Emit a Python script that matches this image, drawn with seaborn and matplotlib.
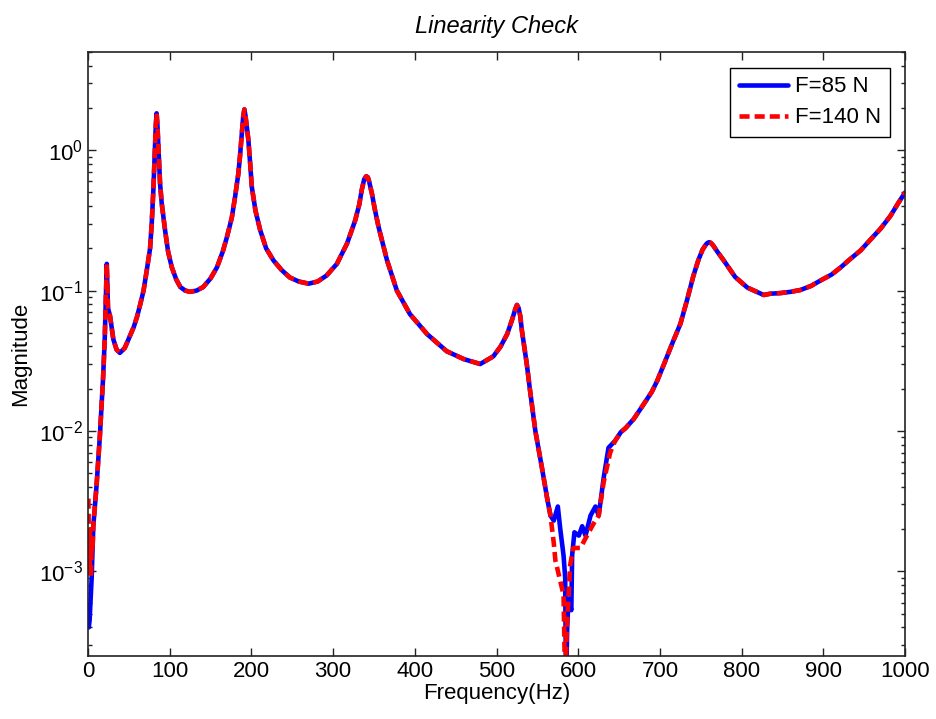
import numpy as np
import pandas as pd
import matplotlib
matplotlib.use('Agg')
import matplotlib.pyplot as plt
import seaborn as sns

# low-frequency start (the two runs differ here)
low_freq_85 = [1.0, 2.0, 3.0, 4.5, 5.5]
low_mag_85 = [4.0e-4, 4.5e-4, 6.0e-4, 9.0e-4, 1.4e-3]
low_freq_140 = [0.5, 1.5, 2.5, 3.5, 4.5, 5.5]
low_mag_140 = [3.3e-3, 1.0e-3, 2.0e-3, 9.0e-4, 1.6e-3, 1.4e-3]

# part of the response where both runs overlap
mid_freq = [6.5, 10.5, 14.5, 18.5, 20.5, 21.5, 23, 24.5, 27, 31, 35, 39, 45, 51, 56, 60, 64, 68,
            72, 76, 78, 80, 82, 83, 84, 85, 86.2, 88.2, 90.2, 94.3, 98, 102.5, 108, 113, 119,
            125, 133, 141, 150, 158, 165, 170, 176, 180, 182, 184, 186, 188, 190, 191.4, 192.8,
            194.3, 196.3, 198.5, 200.5, 205, 210.7, 218, 227, 237, 247, 258, 270, 281, 292,
            304.6, 317, 327, 332, 335, 338, 340.5, 342.5, 344, 347.5, 351, 355.6, 366, 378, 394,
            415, 439, 460, 480, 496, 505, 513, 519, 523, 525, 527, 529, 531, 537, 541, 547.5,
            555.6, 562, 566]
mid_mag = [2.1e-3, 4.1e-3, 9.1e-3, 0.024, 0.045, 0.072, 0.155, 0.075, 0.066, 0.045, 0.038,
           0.036, 0.039, 0.047, 0.055, 0.065, 0.08, 0.1, 0.14, 0.2, 0.3, 0.52, 1.06, 1.5, 1.83,
           1.5, 1.06, 0.58, 0.42, 0.27, 0.19, 0.147, 0.12, 0.106, 0.1, 0.098, 0.1, 0.106, 0.122,
           0.147, 0.19, 0.24, 0.33, 0.464, 0.56, 0.68, 0.9, 1.25, 1.75, 1.95, 1.75, 1.47, 1.18,
           0.8, 0.547, 0.37, 0.27, 0.2, 0.164, 0.14, 0.124, 0.116, 0.112, 0.116, 0.128, 0.155,
           0.216, 0.316, 0.41, 0.52, 0.62, 0.652, 0.64, 0.6, 0.49, 0.38, 0.284, 0.164, 0.1,
           0.068, 0.049, 0.037, 0.0325, 0.030, 0.034, 0.04, 0.049, 0.062, 0.074, 0.079, 0.075,
           0.066, 0.052, 0.030, 0.0194, 0.01, 5.45e-3, 3.3e-3, 2.5e-3]

# anti-resonance near 585 Hz (the two runs differ here)
dip_freq_85 = [570, 575, 578, 582, 584, 585, 586.5, 588, 591.5, 592.5, 595.3, 600.7, 604.8,
               608.9, 615, 621, 625, 631, 637]
dip_mag_85 = [2.3e-3, 2.9e-3, 2.0e-3, 1.3e-3, 9.0e-4, 1.5e-4, 4.0e-4, 6.4e-4, 5.3e-4, 1.3e-3,
              1.9e-3, 1.8e-3, 2.1e-3, 1.8e-3, 2.5e-3, 2.9e-3, 2.5e-3, 4.6e-3, 7.6e-3]
dip_freq_140 = [570, 572, 578, 582, 584, 586, 588, 590, 594, 602.6, 610.7, 618.9, 625, 631, 639]
dip_mag_140 = [1.6e-3, 1.2e-3, 8.5e-4, 6.8e-4, 1.5e-4, 4.0e-4, 6.4e-4, 1.1e-3, 1.47e-3,
               1.47e-3, 1.8e-3, 2.2e-3, 2.5e-3, 4.3e-3, 7.0e-3]

# upper part, overlapping again
high_freq = [645, 652, 658, 668, 680, 690, 696.5, 705, 715, 725, 733, 741, 747, 752, 756, 758,
             760, 762, 765, 770, 778, 792, 807, 820, 827, 835, 847.5, 860, 872, 885, 896.5, 910,
             921, 933, 945.5, 958, 970, 982, 992.4, 1000]
high_mag = [8.5e-3, 9.8e-3, 0.0105, 0.0122, 0.0155, 0.019, 0.0227, 0.03, 0.042, 0.058, 0.085,
            0.128, 0.165, 0.195, 0.212, 0.218, 0.221, 0.219, 0.21, 0.19, 0.164, 0.125, 0.105,
            0.097, 0.093, 0.095, 0.096, 0.098, 0.101, 0.108, 0.118, 0.13, 0.146, 0.168, 0.193,
            0.232, 0.276, 0.34, 0.427, 0.5]

f85 = pd.DataFrame({'Frequency': np.concatenate([low_freq_85, mid_freq, dip_freq_85, high_freq]),
                    'Magnitude': np.concatenate([low_mag_85, mid_mag, dip_mag_85, high_mag])})
f140 = pd.DataFrame({'Frequency': np.concatenate([low_freq_140, mid_freq, dip_freq_140, high_freq]),
                     'Magnitude': np.concatenate([low_mag_140, mid_mag, dip_mag_140, high_mag])})

sns.set_style('ticks')
plt.rcParams['font.family'] = ['Liberation Sans', 'DejaVu Sans']
plt.rcParams['mathtext.default'] = 'regular'
plt.rcParams['text.color'] = 'black'
plt.rcParams['axes.labelcolor'] = 'black'

fig, ax = plt.subplots(figsize=(9.36, 7.19), dpi=100)
fig.subplots_adjust(left=0.094, right=0.967, bottom=0.0876, top=0.9277)

sns.lineplot(data=f85, x='Frequency', y='Magnitude', ax=ax, color='#0000ff', lw=3.3,
             label='F=85 N', sort=False)
sns.lineplot(data=f140, x='Frequency', y='Magnitude', ax=ax, color='#ff0000', lw=3.3,
             dashes=False, linestyle=(0, (2.2, 1.1)), label='F=140 N', sort=False)

ax.set_yscale('log')
ax.set_xlim(0, 1000)
ax.set_ylim(2.5e-4, 5.0)
ax.set_xticks(np.arange(0, 1001, 100))
ax.tick_params(axis='both', which='both', direction='in', top=True, right=True,
               labelsize=16, colors='#222222', labelcolor='black')
ax.tick_params(axis='both', which='major', length=6, width=1)
ax.tick_params(axis='y', which='minor', length=3, width=1)
ax.tick_params(axis='x', which='minor', bottom=False, top=False)
for s in ax.spines.values():
    s.set_color('#222222')
    s.set_linewidth(1.2)

ax.set_xlabel('Frequency(Hz)', fontsize=16, labelpad=1)
ax.set_ylabel('Magnitude', fontsize=16, labelpad=6)
ax.set_title('Linearity Check', fontsize=17, style='italic', pad=14)

leg = ax.legend(loc='upper right', fontsize=16, frameon=True, fancybox=False,
                framealpha=1, edgecolor='black', handlelength=2.2, borderaxespad=0.7,
                labelspacing=0.45, handletextpad=0.3)
leg.get_frame().set_linewidth(1)

fig.savefig('out.png', dpi=100)
